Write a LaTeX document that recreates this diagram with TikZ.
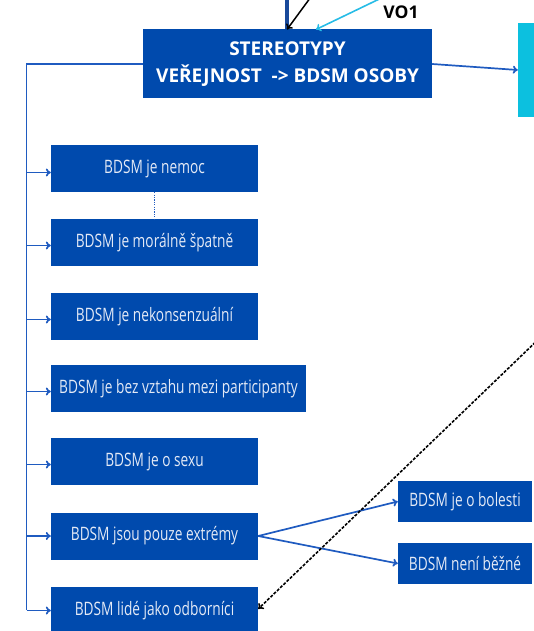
\documentclass[tikz,border=0pt]{standalone}
\usepackage{fontspec}
\setmainfont{Open Sans}
\newfontfamily\condfont[FakeStretch=0.74]{Open Sans}
\usetikzlibrary{arrows.meta}
\definecolor{boxblue}{HTML}{004AAD}
\definecolor{lineblue}{HTML}{1F5BC0}
\definecolor{cyanbox}{HTML}{0CC0DF}
\definecolor{cyanline}{HTML}{27BCE6}
\definecolor{txtlight}{HTML}{E4EAF6}
\tikzset{
  sbox/.style={draw=none, fill=boxblue, text=txtlight, inner sep=0pt,
    minimum width=207pt, minimum height=47pt, font=\condfont\fontsize{18.5}{20}\selectfont},
  rbox/.style={sbox, minimum width=134pt, minimum height=41pt},
  arr/.style={draw=lineblue, line width=1.7pt, -{To[length=5pt,width=8pt]}},
  bline/.style={draw=lineblue, line width=1.7pt},
}
\begin{document}
\begin{tikzpicture}[x=1pt,y=-1pt]
\useasboundingbox (0,0) rectangle (533,631);
% main box
\node[fill=boxblue, text=white, inner sep=0pt, minimum width=289pt, minimum height=69pt,
  align=center, font=\bfseries\fontsize{19}{26.5}\selectfont] (main) at (287.5,64)
  {\raisebox{-2.5pt}{STEREOTYPY}\\\raisebox{-2.5pt}{VEŘEJNOST\ \ -> BDSM OSOBY}};
\node[fill=cyanbox, inner sep=0pt, minimum width=22pt, minimum height=94pt] (cyan) at (529,70) {};
\node[font=\bfseries\fontsize{17.5}{20}\selectfont, text=black] (vo) at (401,12) {VO1};
% top connectors
\coordinate (topblue) at (287,-10);
\coordinate (topblack) at (316,-10);
\coordinate (topcyan) at (398,-10);
\draw[draw=lineblue!80!black, line width=3.2pt] (topblue) -- (287,29);
\draw[black, line width=1.5pt, -{To[length=5pt,width=8pt]}] (topblack) -- (287,29.5);
\draw[cyanline, line width=1.6pt, -{To[length=5pt,width=8pt]}] (topcyan) -- (316,29.5);
% main to cyan
\draw[arr] (main.east) -- (cyan.west);
% left column boxes
\node[sbox] (b1) at (154.5,168.5) {BDSM je nemoc};
\node[sbox] (b2) at (154.5,242.5) {BDSM je morálně špatně};
\node[sbox] (b3) at (154.5,316.5) {BDSM je nekonsenzuální};
\node[sbox, minimum width=255pt] (b4) at (178.5,388.5) {BDSM je bez vztahu mezi participanty};
\node[sbox] (b5) at (154.5,461.5) {BDSM je o sexu};
\node[sbox] (b6) at (154.5,536) {BDSM jsou pouze extrémy};
\node[sbox] (b7) at (154.5,610.5) {BDSM lidé jako odborníci};
% right boxes
\node[rbox] (r1) at (465,501.5) {BDSM je o bolesti};
\node[rbox] (r2) at (465,563.5) {BDSM není běžné};
% trunk
\coordinate (trunkbot) at (26.5,610);
\draw[bline] (main.west) -| (trunkbot);
\foreach \b/\dy in {b1/4,b2/3,b3/3,b4/3,b5/3,b6/0,b7/0}{
  \draw[arr] ([yshift=-\dy pt]trunkbot |- \b.west) -- ([yshift=-\dy pt]\b.west);
}
% dotted
\draw[draw=lineblue, line width=1.8pt, dash pattern=on 1.2pt off 1.2pt] (b1.south) -- (b2.north);
% extremy branches
\draw[arr] (b6.east) -- (r1.west);
\draw[arr] (b6.east) -- (r2.west);
% dashed
\coordinate (dashtop) at (545,333);
\draw[black, line width=1.6pt, dash pattern=on 3pt off 1.5pt, -{To[length=5pt,width=8pt]}] (dashtop) -- ([yshift=1.5pt]b7.east);
\end{tikzpicture}
\end{document}
